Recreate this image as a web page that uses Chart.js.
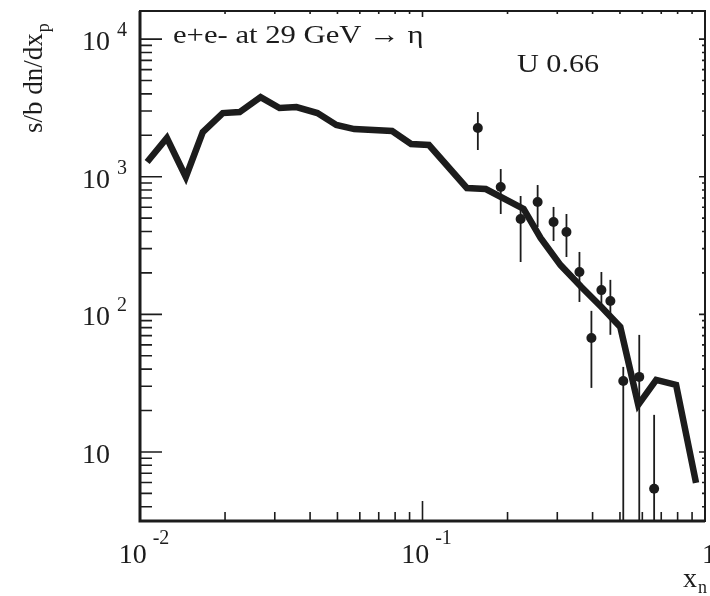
<!DOCTYPE html>
<html>
<head>
<meta charset="utf-8">
<script src="https://cdn.jsdelivr.net/npm/chart.js@4.4.1/dist/chart.umd.min.js"></script>
<style>
  html, body { margin: 0; padding: 0; background: #fff; }
  #grafico { display: block; }
</style>
</head>
<body>
<canvas id="grafico" width="710" height="596"></canvas>
<script>
// Curva (modelo)
const curvaX = [0.0106, 0.01245, 0.01453, 0.01668, 0.01963, 0.02253, 0.02672, 0.03118, 0.03579,
                0.04246, 0.04954, 0.05734, 0.07806, 0.09109, 0.1054, 0.1435, 0.1675, 0.228,
                0.2618, 0.308, 0.3652, 0.4298, 0.5013, 0.5803, 0.6718, 0.7901, 0.9296];
const curvaY = [1279, 1910, 995, 2112, 2901, 2950, 3791, 3155, 3209,
                2901, 2374, 2220, 2147, 1728, 1699, 828, 814, 583,
                359, 228, 158, 113, 81, 22.0, 33.4, 30.7, 5.97];

// Dados experimentais com barras de erro
const dadosX = [0.157, 0.1892, 0.2225, 0.2556, 0.291, 0.3233, 0.3594, 0.4298, 0.4624, 0.3962, 0.5137, 0.5852, 0.6606];
const dadosY = [2258, 842, 493, 655, 469, 397, 203, 150, 125, 67.4, 32.8, 35.1, 5.4];
const erroSup = [2950, 1137, 724, 870, 603, 536, 284, 203, 178, 106, 41.5, 70.9, 18.6];
const erroInf = [1563, 536, 240, 431, 341, 261, 123, 117, 71, 29.2, 1, 1, 1];

// Marcas dos eixos
const yTicks = [10, 100, 1000, 10000];
const yTickExp = ['', '2', '3', '4'];
const xTicks = [0.01, 0.1, 1];
const xTickBase = ['10', '10', '1'];
const xTickExp = ['-2', '-1', ''];

const FONTE = '"Liberation Serif", "DejaVu Serif", serif';
const COR = '#1c1c1c';

// minor ticks: 2..9 em cada década
function menores(min, max) {
    const lista = [];
    for (let d = Math.floor(Math.log10(min)); d <= Math.ceil(Math.log10(max)); d++) {
        for (let k = 1; k <= 9; k++) {
            const v = k * Math.pow(10, d);
            if (v >= min && v <= max) lista.push({ v: v, maior: k === 1 });
        }
    }
    return lista;
}

// texto um pouco "esticado" na horizontal, como no original
function textoLargo(ctx, txt, x, y, esc) {
    ctx.save();
    ctx.translate(x, y);
    ctx.scale(esc, 1);
    ctx.fillText(txt, 0, 0);
    ctx.restore();
}

const barrasErro = {
    id: 'barrasErro',
    beforeDatasetsDraw(chart) {
        const ctx = chart.ctx;
        const area = chart.chartArea;
        const sx = chart.scales.x, sy = chart.scales.y;
        ctx.save();
        ctx.beginPath();
        ctx.rect(area.left, area.top, area.right - area.left, area.bottom - area.top);
        ctx.clip();
        ctx.strokeStyle = COR;
        ctx.lineWidth = 1.8;
        dadosX.forEach((x, i) => {
            const px = sx.getPixelForValue(x);
            ctx.beginPath();
            ctx.moveTo(px, sy.getPixelForValue(erroSup[i]));
            ctx.lineTo(px, sy.getPixelForValue(erroInf[i]));
            ctx.stroke();
        });
        ctx.restore();
    }
};

const moldura = {
    id: 'moldura',
    afterDraw(chart) {
        const ctx = chart.ctx;
        const a = chart.chartArea;
        const sx = chart.scales.x, sy = chart.scales.y;
        ctx.save();
        ctx.strokeStyle = COR;
        ctx.fillStyle = COR;

        // caixa
        ctx.lineWidth = 2;
        ctx.strokeRect(a.left, a.top, a.right - a.left, a.bottom - a.top);
        ctx.lineWidth = 3;
        ctx.beginPath();
        ctx.moveTo(a.left, a.top);
        ctx.lineTo(a.left, a.bottom);
        ctx.lineTo(a.right, a.bottom);
        ctx.stroke();

        // ticks eixo y
        ctx.lineWidth = 1.6;
        menores(sy.min, sy.max).forEach(t => {
            const py = sy.getPixelForValue(t.v);
            ctx.beginPath();
            ctx.moveTo(a.left, py);
            ctx.lineTo(a.left + (t.maior ? 22 : 12), py);
            ctx.moveTo(a.right, py);
            ctx.lineTo(a.right - (t.maior ? 6 : 3), py);
            ctx.stroke();
        });
        // ticks eixo x
        menores(sx.min, sx.max).forEach(t => {
            const px = sx.getPixelForValue(t.v);
            ctx.beginPath();
            ctx.moveTo(px, a.bottom);
            ctx.lineTo(px, a.bottom - (t.maior ? 20 : 9));
            ctx.moveTo(px, a.top);
            ctx.lineTo(px, a.top + (t.maior ? 6 : 3));
            ctx.stroke();
        });

        // rótulos eixo y
        ctx.textBaseline = 'alphabetic';
        ctx.textAlign = 'left';
        yTicks.forEach((v, i) => {
            const py = sy.getPixelForValue(v);
            ctx.font = '28px ' + FONTE;
            ctx.fillText('10', 82, py + 11);
            if (yTickExp[i]) {
                ctx.font = '20px ' + FONTE;
                ctx.fillText(yTickExp[i], 117, py - 3);
            }
        });

        // rótulos eixo x
        xTicks.forEach((v, i) => {
            const px = sx.getPixelForValue(v);
            ctx.font = '28px ' + FONTE;
            const wBase = ctx.measureText(xTickBase[i]).width;
            ctx.font = '20px ' + FONTE;
            const wExp = xTickExp[i] ? ctx.measureText(xTickExp[i]).width + 6 : 0;
            const esq = px - (wBase + wExp) / 2 + 4;
            ctx.font = '28px ' + FONTE;
            ctx.fillText(xTickBase[i], esq, 563);
            if (xTickExp[i]) {
                ctx.font = '20px ' + FONTE;
                ctx.fillText(xTickExp[i], esq + wBase + 6, 544);
            }
        });

        // título eixo x
        ctx.font = '28px ' + FONTE;
        ctx.fillText('x', 683, 587);
        ctx.font = '18px ' + FONTE;
        ctx.fillText('n', 698, 593);

        // título eixo y (rotacionado)
        ctx.save();
        ctx.translate(42, 133);
        ctx.rotate(-Math.PI / 2);
        ctx.font = '27px ' + FONTE;
        ctx.fillText('s/b dn/dx', 0, 0);
        const wT = ctx.measureText('s/b dn/dx').width;
        ctx.font = '18px ' + FONTE;
        ctx.fillText('p', wT + 1, 7);
        ctx.restore();

        // textos dentro do gráfico
        ctx.font = '26px ' + FONTE;
        textoLargo(ctx, 'e+e- at 29 GeV \u2192 \u03b7', 173, 43, 1.18);
        textoLargo(ctx, 'U 0.66', 517, 72, 1.16);

        ctx.restore();
    }
};

const ctx = document.getElementById('grafico');
new Chart(ctx, {
    type: 'line',
    data: {
        datasets: [{
            label: 'modelo',
            data: curvaX.map((x, i) => ({ x: x, y: curvaY[i] })),
            borderColor: COR,
            borderWidth: 6.5,
            borderJoinStyle: 'miter',
            pointRadius: 0,
            tension: 0,
            fill: false
        }, {
            label: 'dados',
            data: dadosX.map((x, i) => ({ x: x, y: dadosY[i] })),
            showLine: false,
            pointRadius: 5,
            pointBackgroundColor: COR,
            pointBorderColor: COR,
            pointBorderWidth: 0
        }]
    },
    options: {
        responsive: false,
        animation: false,
        events: [],
        layout: { padding: { left: 140, right: 3, top: 11, bottom: 75 } },
        plugins: { legend: { display: false }, tooltip: { enabled: false } },
        scales: {
            x: { type: 'logarithmic', min: 0.01, max: 1, display: false },
            y: { type: 'logarithmic', min: 3.15, max: 16000, display: false }
        }
    },
    plugins: [barrasErro, moldura]
});
</script>
</body>
</html>
